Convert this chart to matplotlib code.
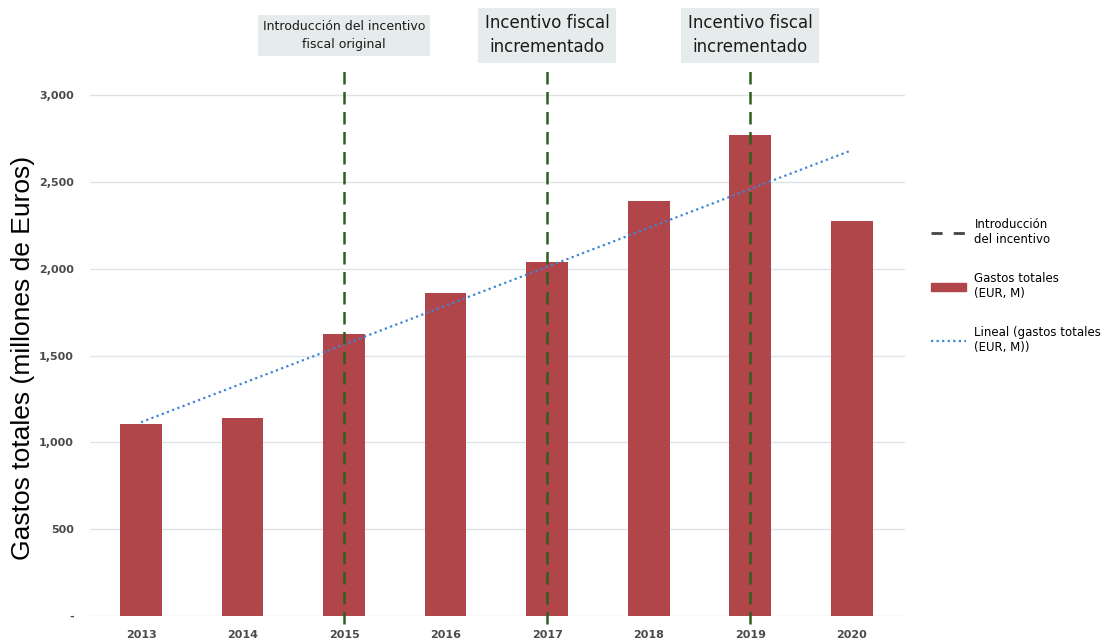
import numpy as np
import matplotlib
matplotlib.use('Agg')
from matplotlib import pyplot as plt
from matplotlib.lines import Line2D
from matplotlib.patches import Patch

## data ##
years = ['2013', '2014', '2015', '2016', '2017', '2018', '2019', '2020']
gastos = [1105, 1140, 1623, 1860, 2038, 2389, 2769, 2274]
incentive_years = ['2015', '2017', '2019']
incentive_labels = ['Introducción del incentivo\nfiscal original',
                    'Incentivo fiscal\nincrementado',
                    'Incentivo fiscal\nincrementado']
y_ticks = [0, 500, 1000, 1500, 2000, 2500, 3000]
y_ticklabels = ['-', '500', '1,000', '1,500', '2,000', '2,500', '3,000']

bar_color = '#b0454a'
green = '#2f5e1e'

fig = plt.figure(figsize=(11.14, 6.39), dpi=100)
ax = fig.add_axes([0.081, 0.036, 0.731, 0.853])

x = np.arange(len(years))
ax.bar(x, gastos, width=0.41, color=bar_color, zorder=2)

# linear trend of the bars
coef = np.polyfit(x, gastos, 1)
ax.plot(x, np.polyval(coef, x), linestyle=(0, (1, 1.5)), color='#3f86d6', lw=1.6, zorder=3)

# incentive markers
for yr, lab in zip(incentive_years, incentive_labels):
    xi = years.index(yr)
    ax.axvline(xi, ymin=-0.015, ymax=1.0, color=green, lw=1.8,
               linestyle=(0, (5, 3)), zorder=4, clip_on=False)
    fs = 9 if len(lab) > 32 else 12
    ax.text(xi, 3345, lab, ha='center', va='center', fontsize=fs,
            color='#1a1a1a', linespacing=1.45,
            bbox=dict(boxstyle='square,pad=0.4', fc='#e6ebeb', ec='none'),
            clip_on=False)

ax.set_xlim(-0.5, 7.52)
ax.set_ylim(0, 3140)
ax.set_yticks(y_ticks)
ax.set_yticklabels(y_ticklabels)
ax.set_xticks(x)
ax.set_xticklabels(years)
ax.tick_params(axis='both', length=0, labelsize=8, labelcolor='#4a4a4a')
ax.tick_params(axis='y', pad=12)
ax.tick_params(axis='x', pad=10)
for lab in ax.get_yticklabels() + ax.get_xticklabels():
    lab.set_fontweight('bold')
ax.grid(axis='y', color='#dde3e6', lw=1, zorder=0)
for s in ax.spines.values():
    s.set_visible(False)

fig.text(0.021, 0.44, 'Gastos totales (millones de Euros)', rotation=90,
         ha='center', va='center', fontsize=19, family='Liberation Sans')

handles = [Line2D([0], [0], color='#444444', lw=2, linestyle=(0, (4, 4))),
           Patch(color=bar_color),
           Line2D([0], [0], color='#3f86d6', lw=1.6, linestyle=(0, (1, 1.5)))]
labels = ['Introducción\ndel incentivo', 'Gastos totales\n(EUR, M)',
          'Lineal (gastos totales\n(EUR, M))']
fig.legend(handles, labels, loc='upper left', bbox_to_anchor=(0.826, 0.675),
           frameon=False, prop={'size': 8.5},
           handlelength=3, labelspacing=2.2, handletextpad=0.7)

fig.savefig('out.png', dpi=100)
